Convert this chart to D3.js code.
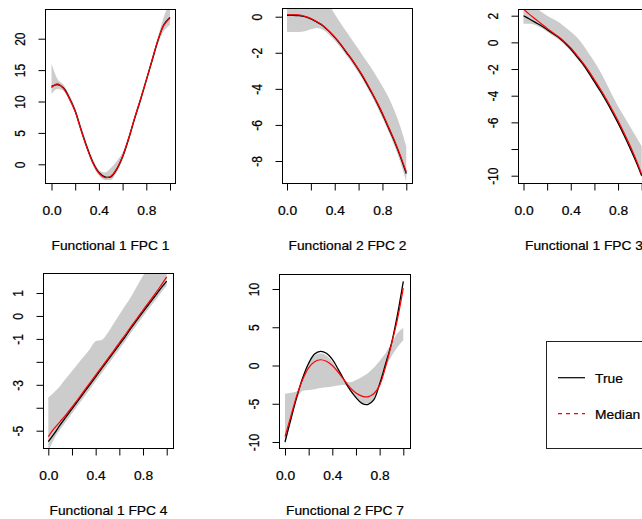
<!DOCTYPE html>
<html><head><meta charset="utf-8">
<script src="https://cdn.jsdelivr.net/npm/d3@7"></script>
<style>
body{margin:0;background:#fff;}
svg{display:block;}
text{font-family:"Liberation Sans",Arial,sans-serif;font-size:12px;fill:#000;stroke:#000;stroke-width:0.2px;}
</style>
</head><body><svg id="c" width="642" height="519"></svg>
<script>
// ---------- data ----------
const xGrid = [0,0.05,0.1,0.15,0.2,0.25,0.3,0.35,0.4,0.45,0.5,0.55,0.6,0.65,0.7,0.75,0.8,0.85,0.9,0.95,1];

const titles = ["Functional 1 FPC 1","Functional 2 FPC 2","Functional 1 FPC 3","Functional 1 FPC 4","Functional 2 FPC 7"];
const xTicks = [0,0.2,0.4,0.6,0.8,1.0];
const xTickLabels = ["0.0","","0.4","","0.8",""];

const yTicks1 = [0,5,10,15,20];       const yLabels1 = ["0","5","10","15","20"];
const yTicks2 = [0,-2,-4,-6,-8];      const yLabels2 = ["0","-2","-4","-6","-8"];
const yTicks3 = [2,0,-2,-4,-6,-8,-10]; const yLabels3 = ["2","0","-2","-4","-6","","-10"];
const yTicks4 = [1,0,-1,-2,-3,-4,-5]; const yLabels4 = ["1","0","-1","","-3","","-5"];
const yTicks5 = [10,5,0,-5,-10];      const yLabels5 = ["10","5","0","-5","-10"];

const true1   = [12.4,12.7,12.2,10.6,8.5,5.5,2.7,0.3,-1.3,-2.0,-2.0,-0.8,1.2,4.0,7.2,10.2,13.4,16.6,19.8,22.3,23.4];
const median1 = [12.2,12.8,12.1,10.5,8.4,5.4,2.6,0.2,-1.4,-2.1,-1.9,-0.7,1.3,4.1,7.3,10.3,13.4,16.7,19.9,22.2,23.3];
const lower1  = [11.2,12.0,11.7,10.1,8.0,5.0,2.2,-0.2,-1.8,-2.5,-2.5,-1.3,0.7,3.5,6.7,9.7,12.9,16.1,19.3,21.3,22.2];
const upper1  = [16.0,13.6,12.7,11.1,9.0,6.0,3.2,0.8,-0.9,-1.3,-0.6,0.5,1.9,4.5,7.7,10.7,13.9,17.1,20.4,23.6,26.0];

const true2   = [0.08,0.08,0.06,0.0,-0.12,-0.3,-0.5,-0.8,-1.15,-1.55,-2.0,-2.45,-2.95,-3.5,-4.1,-4.72,-5.4,-6.15,-6.9,-7.75,-8.7];
const median2 = [0.12,0.1,0.1,0.02,-0.1,-0.28,-0.48,-0.78,-1.12,-1.52,-1.97,-2.42,-2.92,-3.45,-4.05,-4.68,-5.35,-6.1,-6.85,-7.7,-8.6];
const lower2  = [-0.83,-0.85,-0.85,-0.8,-0.7,-0.62,-0.72,-0.98,-1.32,-1.72,-2.17,-2.62,-3.12,-3.67,-4.27,-4.92,-5.62,-6.35,-7.15,-8.05,-9.15];
const upper2  = [1.0,1.1,1.2,1.2,1.1,1.0,0.9,0.65,0.15,-0.37,-0.85,-1.33,-1.8,-2.3,-2.77,-3.3,-3.85,-4.45,-5.2,-6.1,-7.2];

const true3   = [2.0,1.75,1.5,1.25,0.95,0.65,0.35,-0.05,-0.5,-1.05,-1.6,-2.25,-2.95,-3.65,-4.4,-5.2,-6.05,-6.95,-7.9,-8.9,-10.0];
const median3 = [2.5,2.1,1.75,1.4,1.05,0.72,0.4,0.02,-0.42,-0.95,-1.5,-2.12,-2.8,-3.5,-4.25,-5.05,-5.88,-6.78,-7.72,-8.75,-9.9];
const lower3  = [1.4,1.4,1.3,1.1,0.8,0.5,0.2,-0.2,-0.65,-1.2,-1.75,-2.4,-3.1,-3.8,-4.55,-5.35,-6.2,-7.1,-8.05,-9.05,-10.15];
const upper3  = [3.0,2.9,2.6,2.3,2.0,1.75,1.5,1.15,0.8,0.4,-0.15,-0.8,-1.45,-2.2,-3.05,-3.95,-4.8,-5.55,-6.3,-7.05,-7.8];

const true4   = [-5.48,-5.13,-4.75,-4.4,-4.05,-3.7,-3.35,-3.0,-2.65,-2.3,-1.95,-1.6,-1.25,-0.9,-0.52,-0.17,0.18,0.52,0.85,1.2,1.52];
const median4 = [-5.26,-4.9,-4.6,-4.3,-3.97,-3.63,-3.28,-2.93,-2.58,-2.23,-1.88,-1.53,-1.17,-0.82,-0.45,-0.1,0.26,0.6,0.95,1.32,1.7];
const lower4  = [-5.9,-5.35,-4.95,-4.6,-4.25,-3.9,-3.55,-3.2,-2.85,-2.5,-2.15,-1.8,-1.45,-1.1,-0.72,-0.37,-0.02,0.32,0.65,1.0,1.32];
const upper4  = [-3.55,-3.33,-3.05,-2.72,-2.4,-2.08,-1.77,-1.45,-1.1,-1.05,-0.75,-0.35,0.05,0.45,0.85,1.3,1.75,2.1,2.4,2.7,3.0];

const true5   = [-10.0,-7.0,-4.1,-1.6,0.3,1.5,1.85,1.6,0.8,-0.5,-1.9,-3.2,-4.2,-4.95,-5.1,-4.5,-2.4,0.2,2.9,6.6,11.0];
const median5 = [-9.3,-6.6,-3.9,-1.8,-0.3,0.5,0.75,0.55,0.0,-0.9,-1.9,-2.9,-3.6,-4.0,-4.1,-3.7,-2.6,-0.2,2.8,6.0,10.1];
const lower5  = [-10.3,-7.4,-4.5,-3.3,-3.2,-3.1,-2.95,-2.85,-2.75,-2.6,-2.5,-3.2,-4.2,-4.9,-5.0,-4.4,-2.4,-0.3,1.2,2.4,3.3];
const upper5  = [-3.7,-3.55,-3.4,-1.4,0.3,1.3,1.6,1.3,0.5,-0.7,-1.9,-2.2,-1.9,-1.5,-1.0,-0.3,0.6,1.6,2.9,4.2,4.9];

const legendLabels = ["True","Median"];

// ---------- layout ----------
const SX = 1.15; // horizontal text stretch
const panels = [
  {box:[45.5,9.5,175.5,183.5],  xr:[51.5,170],   yd:[0,20],  yr:[164.3,38.7], tr:true1, md:median1, lo:lower1, up:upper1, yt:yTicks1, yl:yLabels1},
  {box:[282.5,8.5,412.5,183.5], xr:[287,406.3],  yd:[0,-8],  yr:[16.7,161],   tr:true2, md:median2, lo:lower2, up:upper2, yt:yTicks2, yl:yLabels2},
  {box:[518.5,9.5,649.5,183.5], xr:[523.5,641.7],yd:[2,-10], yr:[15.7,175.7], tr:true3, md:median3, lo:lower3, up:upper3, yt:yTicks3, yl:yLabels3},
  {box:[43.5,273.5,173.5,448.5],xr:[48.3,166.7], yd:[1,-5],  yr:[293,430.7],  tr:true4, md:median4, lo:lower4, up:upper4, yt:yTicks4, yl:yLabels4},
  {box:[279.5,274.5,410.5,448.5],xr:[285,403.3], yd:[10,-10],yr:[289,442],    tr:true5, md:median5, lo:lower5, up:upper5, yt:yTicks5, yl:yLabels5}
];

const svg = d3.select("#c");
svg.append("rect").attr("width",642).attr("height",519).attr("fill","#fff");
const defs = svg.append("defs");
const FONT = '"Liberation Sans",Arial,sans-serif';

panels.forEach((p,i) => {
  const [x0,y0,x1,y1] = p.box;
  const x = d3.scaleLinear().domain([0,1]).range(p.xr);
  const y = d3.scaleLinear().domain(p.yd).range(p.yr);
  defs.append("clipPath").attr("id","clip"+i).append("rect")
    .attr("x",x0).attr("y",y0).attr("width",x1-x0).attr("height",y1-y0);
  const g = svg.append("g");
  const pg = g.append("g").attr("clip-path",`url(#clip${i})`);
  const idx = d3.range(xGrid.length);
  pg.append("path")
    .attr("d", d3.area().x(j=>x(xGrid[j])).y0(j=>y(p.lo[j])).y1(j=>y(p.up[j])).curve(d3.curveMonotoneX)(idx))
    .attr("fill","#cccccc");
  pg.append("path")
    .attr("d", d3.line().x(j=>x(xGrid[j])).y(j=>y(p.tr[j])).curve(d3.curveCatmullRom)(idx))
    .attr("fill","none").attr("stroke","#000").attr("stroke-width",1.3);
  pg.append("path")
    .attr("d", d3.line().x(j=>x(xGrid[j])).y(j=>y(p.md[j])).curve(d3.curveCatmullRom)(idx))
    .attr("fill","none").attr("stroke","#ff0000").attr("stroke-width",1.2);
  g.append("rect").attr("x",x0).attr("y",y0).attr("width",x1-x0).attr("height",y1-y0)
    .attr("fill","none").attr("stroke","#000").attr("stroke-width",1);

  // x axis
  const xa = g.append("g").attr("transform",`translate(0,${y1})`)
    .call(d3.axisBottom(x).tickValues(xTicks).tickSizeInner(7).tickSizeOuter(0).tickPadding(16)
      .tickFormat((d,k)=>xTickLabels[k]));
  xa.select(".domain").remove();
  xa.selectAll("line").attr("stroke","#000");
  xa.selectAll("text").attr("transform",`scale(${SX},1)`).attr("fill","#000")
    .style("font-family",FONT).style("font-size","12px").style("stroke","#000").style("stroke-width","0.2px");

  // y axis
  const ya = g.append("g").attr("transform",`translate(${x0},0)`)
    .call(d3.axisLeft(y).tickValues(p.yt).tickSizeInner(7).tickSizeOuter(0)
      .tickFormat((d,k)=>p.yl[k]));
  ya.select(".domain").remove();
  ya.selectAll("line").attr("stroke","#000");
  ya.selectAll("text").attr("x",null).attr("dy",null).attr("y",null)
    .attr("text-anchor","middle").attr("fill","#000")
    .attr("transform",`translate(-21,0) scale(${SX},1) rotate(-90)`)
    .style("font-family",FONT).style("font-size","12px").style("stroke","#000").style("stroke-width","0.2px");

  // x label
  g.append("text").attr("text-anchor","middle")
    .attr("transform",`translate(${(x0+x1)/2},${y1+66}) scale(${SX},1)`)
    .text(titles[i]);
});

// ---------- legend ----------
const lg = svg.append("g");
lg.append("rect").attr("x",546.5).attr("y",341.5).attr("width",200).attr("height",107)
  .attr("fill","none").attr("stroke","#222").attr("stroke-width",1);
const legendColors = ["#000","#ff0000"];
const legendDash = [null,"4,4"];
const legendY = d3.scalePoint().domain(legendLabels).range([377.7,413.7]);
legendLabels.forEach((lab,k)=>{
  lg.append("line").attr("x1",558).attr("x2",585).attr("y1",legendY(lab)).attr("y2",legendY(lab))
    .attr("stroke",legendColors[k]).attr("stroke-width",1.2).attr("stroke-dasharray",legendDash[k]);
  lg.append("text").attr("transform",`translate(595,${legendY(lab)+5.5}) scale(${SX},1)`).text(lab);
});
</script>
</body></html>
